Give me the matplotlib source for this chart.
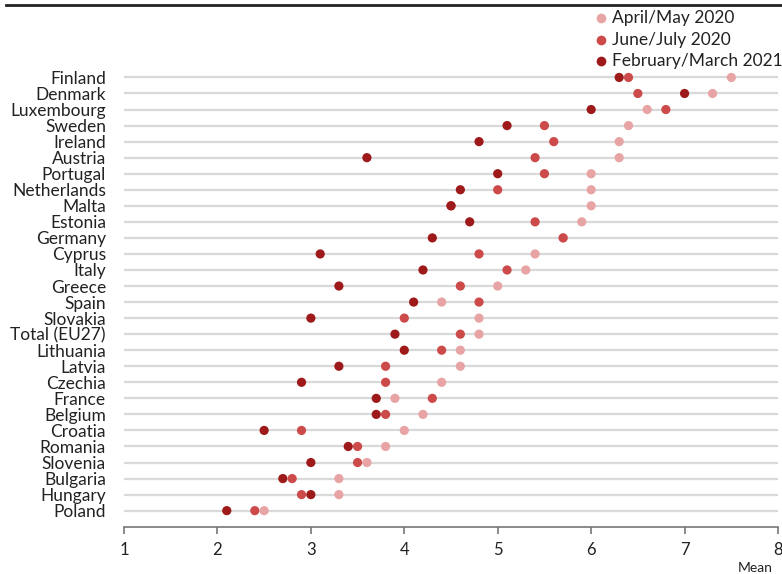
import matplotlib
matplotlib.use("Agg")
import matplotlib.pyplot as plt
from matplotlib.lines import Line2D
import numpy as np

plt.rcParams['font.family'] = ['Lato', 'DejaVu Sans']

countries = ["Finland", "Denmark", "Luxembourg", "Sweden", "Ireland", "Austria",
             "Portugal", "Netherlands", "Malta", "Estonia", "Germany", "Cyprus",
             "Italy", "Greece", "Spain", "Slovakia", "Total (EU27)", "Lithuania",
             "Latvia", "Czechia", "France", "Belgium", "Croatia", "Romania",
             "Slovenia", "Bulgaria", "Hungary", "Poland"]

apr_may_2020 = [7.5, 7.3, 6.6, 6.4, 6.3, 6.3, 6.0, 6.0, 6.0, 5.9, 5.7, 5.4,
                5.3, 5.0, 4.4, 4.8, 4.8, 4.6, 4.6, 4.4, 3.9, 4.2, 4.0, 3.8,
                3.6, 3.3, 3.3, 2.5]
jun_jul_2020 = [6.4, 6.5, 6.8, 5.5, 5.6, 5.4, 5.5, 5.0, 4.5, 5.4, 5.7, 4.8,
                5.1, 4.6, 4.8, 4.0, 4.6, 4.4, 3.8, 3.8, 4.3, 3.8, 2.9, 3.5,
                3.5, 2.8, 2.9, 2.4]
feb_mar_2021 = [6.3, 7.0, 6.0, 5.1, 4.8, 3.6, 5.0, 4.6, 4.5, 4.7, 4.3, 3.1,
                4.2, 3.3, 4.1, 3.0, 3.9, 4.0, 3.3, 2.9, 3.7, 3.7, 2.5, 3.4,
                3.0, 2.7, 3.0, 2.1]

series_names = ["April/May 2020", "June/July 2020", "February/March 2021"]
colors = ["#e8a4a4", "#cd4a4a", "#9e1a1a"]
x_ticks = [1, 2, 3, 4, 5, 6, 7, 8]

fig = plt.figure(figsize=(7.82, 5.74), dpi=100)
ax = fig.add_axes([124/782, 1 - 526.7/574, 654/782, (526.7 - 61.4)/574])

n = len(countries)
ypos = np.arange(n)[::-1]  # Finland at top

for y in ypos:
    ax.axhline(y, color="#d9d9d9", lw=1.6, zorder=0)

# gather points, draw in x-order so rightmost overlaps
xs, ys, cs = [], [], []
for vals, c in zip([apr_may_2020, jun_jul_2020, feb_mar_2021], colors):
    xs += list(vals)
    ys += list(ypos)
    cs += [c] * n
order = np.argsort(np.array(xs), kind="stable")
ax.scatter(np.array(xs)[order], np.array(ys)[order], c=np.array(cs)[order],
           s=44, linewidths=0, zorder=3)

ax.set_xlim(1, 8)
ax.set_ylim(-1, n)
ax.set_yticks(ypos)
ax.set_yticklabels(countries, fontsize=12.5, color="#222222")
ax.tick_params(axis="y", length=0, pad=13)
ax.set_xticks(x_ticks)
ax.set_xticklabels([str(t) for t in x_ticks], fontsize=12, color="#222222")
ax.tick_params(axis="x", length=5, width=1.2, color="#777777", pad=6)
for s in ["top", "right", "left"]:
    ax.spines[s].set_visible(False)
ax.spines["bottom"].set_color("#777777")
ax.spines["bottom"].set_linewidth(1.2)

fig.text(773/782, 1 - 568/574, "Mean", ha="right", va="center", fontsize=10, color="#222222")

# legend (manual placement)
leg_y = [18, 39.5, 61]
for name, c, yy in zip(series_names, colors, leg_y):
    fig.add_artist(Line2D([601/782], [1 - yy/574], marker="o", ls="", color=c,
                          markersize=7, markeredgewidth=0, transform=fig.transFigure))
    fig.text(612/782, 1 - yy/574, name, ha="left", va="center", fontsize=12.5,
             color="#222222")

fig.add_artist(Line2D([6/782, 1], [1 - 5/574, 1 - 5/574], color="#222222", lw=2,
                      transform=fig.transFigure))

fig.savefig("out.png", dpi=100)
